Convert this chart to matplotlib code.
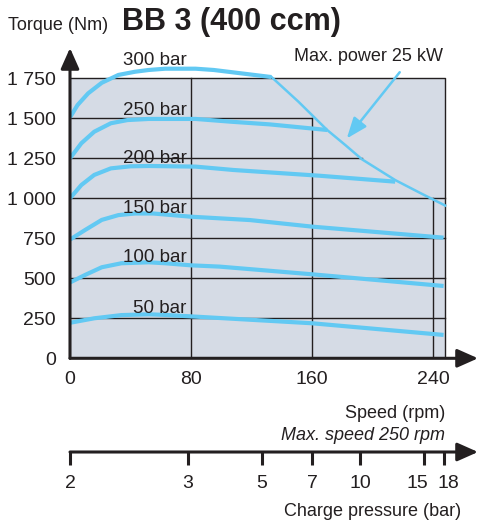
import matplotlib
matplotlib.use("Agg")
import matplotlib.pyplot as plt
from matplotlib.patches import Rectangle
from matplotlib.transforms import ScaledTranslation
import numpy as np

plt.rcParams['font.family'] = ['Liberation Sans', 'DejaVu Sans']

# ---------------- data ----------------
s300 = [0, 5, 12, 21, 32, 43, 52, 63, 83, 95, 133]
t300 = [1506, 1583, 1656, 1722, 1771, 1791, 1802, 1810, 1810, 1802, 1758]

s250 = [0, 7.5, 16, 27, 38, 52, 83, 106, 132, 170]
t250 = [1250, 1344, 1416, 1469, 1489, 1496, 1496, 1479, 1462, 1427]

s200 = [0, 7.5, 16, 27, 40, 52, 83, 108, 165, 215]
t200 = [1000, 1083, 1146, 1187, 1200, 1202, 1198, 1177, 1141, 1104]

s150 = [0, 10, 21, 32, 43, 55, 80, 119, 160, 247]
t150 = [742, 802, 865, 895, 905, 905, 885, 864, 823, 754]

s100 = [0, 10, 21, 34, 52, 63, 80, 99, 160, 247]
t100 = [474, 521, 569, 594, 600, 594, 581, 573, 525, 452]

s50 = [0, 16, 34, 52, 63, 80, 160, 247]
t50 = [222, 250, 270, 275, 271, 262, 219, 146]

curves = [("300 bar", s300, t300), ("250 bar", s250, t250), ("200 bar", s200, t200),
          ("150 bar", s150, t150), ("100 bar", s100, t100), ("50 bar", s50, t50)]

# max power 25 kW limit line
power_speed = [133, 151, 170, 182, 193, 215, 232, 248]
power_torque = [1760, 1604, 1427, 1333, 1244, 1114, 1031, 955]

speed_ticks = [0, 80, 160, 240]
torque_ticks = [0, 250, 500, 750, 1000, 1250, 1500, 1750]
torque_labels = ["0", "250", "500", "750", "1 000", "1 250", "1 500", "1 750"]

charge_pressure_labels = ["2", "3", "5", "7", "10", "15", "18"]
charge_pressure_speed = [0, 78, 127, 160, 192, 234, 247]

max_speed = 248

# ---------------- styles ----------------
W, H = 480, 524
BLUE = '#62c9f3'
GREYBG = '#d5dbe5'
DARK = '#231f20'
FS = 13
TFS = 14

fig = plt.figure(figsize=(W / 100, H / 100), dpi=100)

x0, x1 = 70, 478
y0, y1 = 358.3, 48
ax = fig.add_axes([x0 / W, 1 - y0 / H, (x1 - x0) / W, (y0 - y1) / H])
ax.set_xlim(0, (x1 - x0) / 1.5125)
ax.set_ylim(0, (y0 - y1) * 6.25)
for sp in ax.spines.values():
    sp.set_visible(False)

ax.add_patch(Rectangle((0, 0), max_speed, 1750, facecolor=GREYBG, edgecolor='none', zorder=0))
# border of grey area
ax.plot([0, max_speed, max_speed], [1750, 1750, 0], color=DARK, lw=1.0, zorder=1)

# grid segments
hgrid = [(250, max_speed), (500, max_speed), (750, max_speed), (1000, max_speed), (1250, 193), (1500, 160)]
for yv, xe in hgrid:
    ax.plot([0, xe], [yv, yv], color=DARK, lw=1.0, zorder=1)
vgrid = [(80, 1750), (160, 1500), (240, 1000)]
for xv, ye in vgrid:
    ax.plot([xv, xv], [0, ye], color=DARK, lw=1.0, zorder=1)

# curves
for name, s, t in curves:
    ax.plot(s, t, color=BLUE, lw=3.0, solid_capstyle='butt', solid_joinstyle='round', zorder=3)
    ylab = np.interp(77, s, t)
    ax.annotate(name, xy=(77, ylab), xytext=(0, 2.5), textcoords='offset points',
                ha='right', va='baseline', fontsize=FS + 0.5, color=DARK, zorder=4)

ax.plot(power_speed, power_torque, color=BLUE, lw=1.8, solid_joinstyle='round', zorder=3)

# arrow for max power
ax.annotate('', xy=(183, 1374), xytext=(218, 1788), xycoords='data',
            arrowprops=dict(arrowstyle='-|>,head_length=0.9,head_width=0.35', color=BLUE,
                            lw=1.8, mutation_scale=14, shrinkA=0, shrinkB=0), zorder=4)
fig.text(369 / W, 1 - 61 / H, "Max. power 25 kW", ha='center', va='baseline', fontsize=FS, color=DARK)

# axes with arrows
for xy in [(0, 1), (1, 0)]:
    ax.annotate('', xy=xy, xytext=(0, 0), xycoords='axes fraction',
                arrowprops=dict(arrowstyle='-|>,head_length=0.9,head_width=0.4', color=DARK,
                                lw=2.2, mutation_scale=14, shrinkA=0, shrinkB=0), annotation_clip=False)

ax.set_xticks(speed_ticks)
ax.set_xticklabels([str(v) for v in speed_ticks])
ax.set_yticks(torque_ticks)
ax.set_yticklabels(torque_labels)
ax.tick_params(axis='both', length=0, labelsize=TFS, colors=DARK)
ax.tick_params(axis='x', pad=9)
ax.tick_params(axis='y', pad=10)

# titles
fig.text(8 / W, 1 - 30 / H, "Torque (Nm)", ha='left', va='baseline', fontsize=FS, color=DARK)
fig.text(122 / W, 1 - 30 / H, "BB 3 (400 ccm)", ha='left', va='baseline', fontsize=22,
         fontweight='bold', color=DARK)

fig.text(445 / W, 1 - 418 / H, "Speed (rpm)", ha='right', va='baseline', fontsize=FS, color=DARK)
fig.text(445 / W, 1 - 440 / H, "Max. speed 250 rpm", ha='right', va='baseline', fontsize=FS,
         style='italic', color=DARK)

# charge pressure axis
yb = 452
ax2 = fig.add_axes([x0 / W, 1 - yb / H, (x1 - x0) / W, 0.001])
ax2.set_xlim(ax.get_xlim())
ax2.set_ylim(0, 1)
for k in ['left', 'right', 'top', 'bottom']:
    ax2.spines[k].set_visible(False)
ax2.set_yticks([])
ax2.annotate('', xy=(1, 0), xytext=(0, 0), xycoords='axes fraction',
             arrowprops=dict(arrowstyle='-|>,head_length=0.9,head_width=0.4', color=DARK,
                             lw=2.2, mutation_scale=14, shrinkA=0, shrinkB=0), annotation_clip=False)
ax2.set_xticks(charge_pressure_speed)
ax2.set_xticklabels(charge_pressure_labels)
ax2.tick_params(axis='x', direction='out', length=9.5, width=2.2, color=DARK,
                labelsize=TFS, labelcolor=DARK, pad=7)
# nudge the crowded last two labels apart, as in the reference
labs = ax2.get_xticklabels()
labs[-2].set_transform(labs[-2].get_transform() + ScaledTranslation(-7 / 100, 0, fig.dpi_scale_trans))
labs[-1].set_transform(labs[-1].get_transform() + ScaledTranslation(5 / 100, 0, fig.dpi_scale_trans))
fig.text(461 / W, 1 - 516 / H, "Charge pressure (bar)", ha='right', va='baseline', fontsize=FS, color=DARK)

fig.savefig("out.png", dpi=100)
